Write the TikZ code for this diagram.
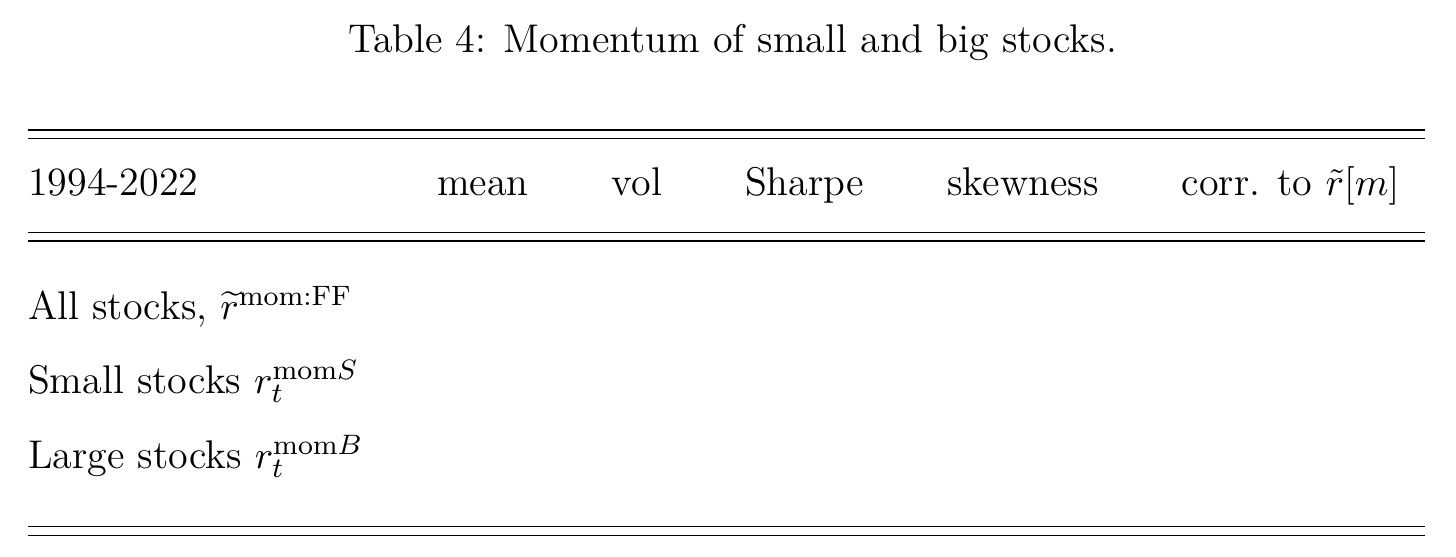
\documentclass[tikz,border=0pt]{standalone}
\usepackage{amsmath}
\usepackage{tikz}

\tikzset{
  cell/.style={inner sep=0pt, anchor=base, font=\fontsize{11.4}{14}\selectfont},
  rowlabel/.style={cell, anchor=base west},
  tablerule/.style={line width=0.4pt},
}

\begin{document}
\begin{tikzpicture}
    \useasboundingbox (0, 0) rectangle (14.56, -5.56);
    \node[cell] (caption) at (7.325, -0.52) {Table 4: Momentum of small and big stocks.};
    % header
    \node[rowlabel] (period) at (0.275, -1.95) {1994-2022};
    \node[cell] (mean) at (4.83, -1.95) {mean};
    \node[cell] (vol) at (6.37, -1.95) {vol};
    \node[cell] (sharpe) at (8.045, -1.95) {Sharpe};
    \node[cell] (skew) at (10.23, -1.95) {skewness};
    \node[cell] (corr) at (12.905, -1.95) {corr. to $\tilde{r}[m]$};
    % rows
    \node[rowlabel] (all) at (0.275, -3.19) {All stocks, $\widetilde{r}^{\text{mom:FF}}$};
    \node[rowlabel] (small) at (0.275, -3.93) {Small stocks $r_t^{\text{mom}S}$};
    \node[rowlabel] (large) at (0.275, -4.68) {Large stocks $r_t^{\text{mom}B}$};
    % rules
    \foreach \y in {1.30, 1.383, 2.323, 2.41, 5.267, 5.353}
      \draw[tablerule] (0.28, -\y) -- (14.25, -\y);
  \end{tikzpicture}
\end{document}
